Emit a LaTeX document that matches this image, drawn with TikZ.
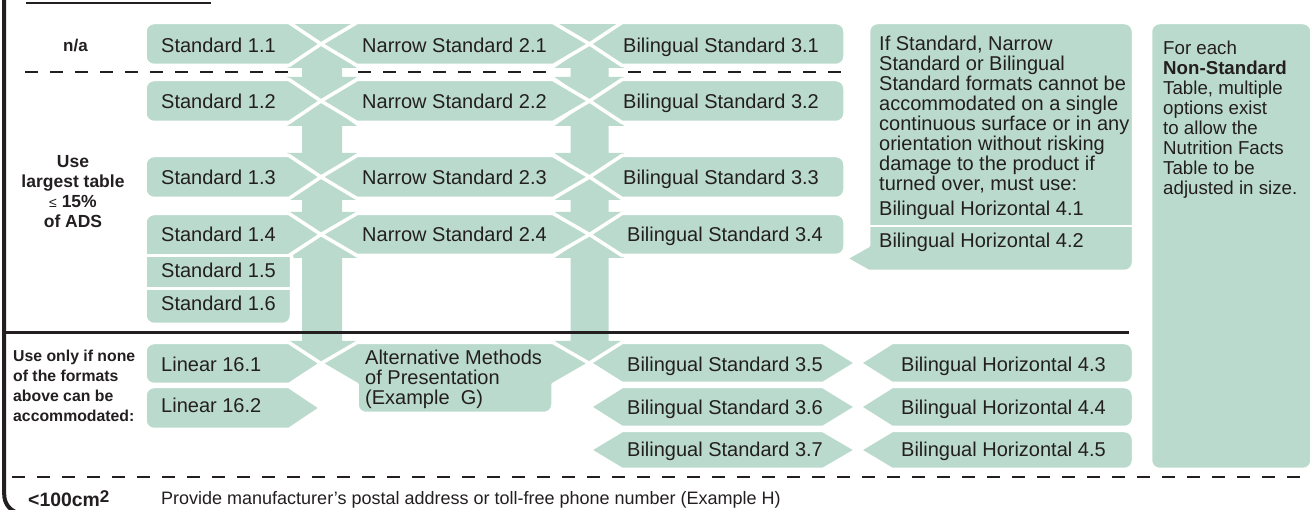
\documentclass[tikz,border=0pt]{standalone}
\usepackage{fontspec}
\setmainfont{Liberation Sans}

\definecolor{mint}{HTML}{BBDACE}
\definecolor{ink}{HTML}{231F20}

% box with rounded left end and a pointed right end
\newcommand\tipRight[5]{% left, corner, tip, top, bottom
  (#2,#4) -- (#3,{(#4+#5)/2}) -- (#2,#5) -- ({#1+9},#5)
  .. controls ({#1+4},#5) and (#1,{#5-4}) .. (#1,{#5-9}) -- (#1,{#4+9})
  .. controls (#1,{#4+4}) and ({#1+4},#4) .. ({#1+9},#4) -- cycle}
% box pointed at both ends
\newcommand\tipBoth[6]{% left tip, left corner, right corner, right tip, top, bottom
  (#1,{(#5+#6)/2}) -- (#2,#5) -- (#3,#5) -- (#4,{(#5+#6)/2}) -- (#3,#6) -- (#2,#6) -- cycle}
% box pointed at the left end, rounded at the right end
\newcommand\tipLeft[5]{% tip, corner, right, top, bottom
  (#1,{(#4+#5)/2}) -- (#2,#4) -- ({#3-9},#4)
  .. controls ({#3-4},#4) and (#3,{#4+4}) .. (#3,{#4+9}) -- (#3,{#5-9})
  .. controls (#3,{#5-4}) and ({#3-4},#5) .. ({#3-9},#5) -- (#2,#5) -- cycle}
% vertical double-headed block arrow
\newcommand\dblArrow[6]{% centre x, upper tip, upper base, lower base, lower tip, shaft half width
  (#1,#2) -- ({#1+35},#3) -- ({#1+#6},#3) -- ({#1+#6},#4) -- ({#1+35},#4) -- (#1,#5)
  -- ({#1-35},#4) -- ({#1-#6},#4) -- ({#1-#6},#3) -- ({#1-35},#3) -- cycle}

\tikzset{
  panel/.style={fill=mint, draw=white, line width=3.5pt, line join=round},
  shaft/.style={fill=mint},
  divider/.style={draw=white, line width=2.5pt},
  solidrule/.style={draw=ink, line width=3pt},
  dashrule/.style={draw=ink, line width=2.2pt, dash pattern=on 13pt off 12pt},
  txt/.style={inner sep=0pt, anchor=base west, text=ink, font=\fontsize{20}{20}\selectfont},
  blocktxt/.style={inner sep=0pt, anchor=north west, align=left, text=ink, font=\fontsize{20}{20}\selectfont},
  sidetxt/.style={inner sep=0pt, text=ink, font=\fontsize{17.5}{20}\selectfont\bfseries},
}

\begin{document}
\begin{tikzpicture}[x=1pt,y=-1pt]
\useasboundingbox (0,0) rectangle (1310,510);

% vertical links between the rows
\foreach \cx/\sw in {322/20, 589.5/19}{
  \path[shaft] ({\cx-35},24.25) -- ({\cx+35},24.25) -- (\cx,44) -- cycle;
  \path[shaft] \dblArrow{\cx}{44}{68}{77}{101}{\sw};
  \path[shaft] \dblArrow{\cx}{101}{126}{153}{177}{\sw};
  \path[shaft] \dblArrow{\cx}{177}{200}{212}{234.5}{\sw};
  \path[shaft] \dblArrow{\cx}{234.5}{258}{341}{363.5}{\sw};
}

% column 1
\path[panel] \tipRight{145}{289}{321}{22.5}{65.5};
\path[panel] \tipRight{145}{289}{321}{79.5}{122.5};
\path[panel] \tipRight{145}{289}{321}{155.5}{198.5};
\path[panel] (289,213.5) -- (321,234.5) -- (289,255.5) -- (291.5,255.5) -- (291.5,315.5)
  .. controls (291.5,320.5) and (287.5,324.5) .. (282.5,324.5) -- (154,324.5)
  .. controls (149,324.5) and (145,320.5) .. (145,315.5) -- (145,222.5)
  .. controls (145,217.5) and (149,213.5) .. (154,213.5) -- cycle;
\draw[divider] (145,255.3) -- (291.5,255.3);
\draw[divider] (145,288.7) -- (291.5,288.7);
\path[panel] \tipRight{145}{289}{321}{342.5}{384.5};
\path[panel] \tipRight{145}{289}{321}{386.5}{429.5};

% column 2
\path[panel] \tipBoth{321}{357}{553}{589.5}{22.5}{65.5};
\path[panel] \tipBoth{321}{357}{553}{589.5}{79.5}{122.5};
\path[panel] \tipBoth{321}{357}{553}{589.5}{155.5}{198.5};
\path[panel] \tipBoth{321}{357}{553}{589.5}{213.5}{255.5};
\path[panel] (321,363.5) -- (357,342.5) -- (553,342.5) -- (589.5,363.5) -- (553,384.5) -- (553,404.5)
  .. controls (553,409.5) and (549,413.5) .. (544,413.5) -- (366,413.5)
  .. controls (361,413.5) and (357,409.5) .. (357,404.5) -- (357,384.5) -- cycle;

% column 3
\path[panel] \tipLeft{589.5}{622}{845}{22.5}{65.5};
\path[panel] \tipLeft{589.5}{622}{845}{79.5}{122.5};
\path[panel] \tipLeft{589.5}{622}{845}{155.5}{198.5};
\path[panel] \tipLeft{589.5}{622}{845}{213.5}{255.5};
\path[panel] \tipBoth{589.5}{622}{823}{856.5}{342.5}{383.5};
\path[panel] \tipBoth{589.5}{622}{823}{856.5}{386.5}{427.5};
\path[panel] \tipBoth{589.5}{622}{823}{856.5}{430.5}{469.5};

% column 4
\path[panel] (877.5,22.5) -- (1124.5,22.5) .. controls (1129.5,22.5) and (1133.5,26.5) .. (1133.5,31.5)
  -- (1133.5,262.5) .. controls (1133.5,267.5) and (1129.5,271.5) .. (1124.5,271.5)
  -- (868.5,271.5) -- (845.5,258.5) -- (868.5,245.5) -- (868.5,31.5)
  .. controls (868.5,26.5) and (872.5,22.5) .. (877.5,22.5) -- cycle;
\draw[divider] (868.5,226) -- (1133.5,226);
\path[panel] \tipLeft{859.5}{892}{1133.5}{342.5}{383.5};
\path[panel] \tipLeft{859.5}{892}{1133.5}{386.5}{427.5};
\path[panel] \tipLeft{859.5}{892}{1133.5}{430.5}{469.5};

% column 5
\path[panel, rounded corners=9pt] (1150.5,22.5) rectangle (1312,469.5);

% frame and rules
\draw[ink, line width=2pt] (26,3.5) -- (211,3.5);
\draw[ink, line width=4pt] (4.2,-3) -- (4.2,494) .. controls (4.2,503) and (9,510) .. (18,513);
\draw[dashrule] (25,72) -- (288,72);
\draw[dashrule] (358,72) -- (548,72);
\draw[dashrule] (628,72) -- (841,72);
\draw[solidrule] (4,333) -- (1129,333);
\draw[dashrule] (12,477) -- (1312,477);

% row labels
\node[sidetxt, anchor=base, font=\fontsize{17}{20}\selectfont\bfseries] (na) at (75.5,52) {n/a};
\node[sidetxt, anchor=north, align=center] (largest) at (73,155.5)
  {Use\\largest table\\{\fontsize{14}{20}\mdseries ≤} 15\%\\of ADS};
\node[sidetxt, anchor=north west, align=left, font=\fontsize{15.8}{20}\selectfont\bfseries] (onlyif) at (13,349.6)
  {Use only if none\\of the formats\\above can be\\accommodated:};

% box texts
\node[txt] (s11) at (161,52.5) {Standard 1.1};
\node[txt] (s12) at (161,108.5) {Standard 1.2};
\node[txt] (s13) at (161,185) {Standard 1.3};
\node[txt] (s14) at (161,242) {Standard 1.4};
\node[txt] (s15) at (161,277.5) {Standard 1.5};
\node[txt] (s16) at (161,311) {Standard 1.6};
\node[txt] (l161) at (161,371.5) {Linear 16.1};
\node[txt] (l162) at (161,412.5) {Linear 16.2};

\node[txt] (n21) at (362,52.5) {Narrow Standard 2.1};
\node[txt] (n22) at (362,108.5) {Narrow Standard 2.2};
\node[txt] (n23) at (362,185) {Narrow Standard 2.3};
\node[txt] (n24) at (362,242) {Narrow Standard 2.4};
\node[blocktxt] (alt) at (365,349.5) {Alternative Methods\\of Presentation\\(Example\ \ G)};

\node[txt] (b31) at (623,52.5) {Bilingual Standard 3.1};
\node[txt] (b32) at (623,108.5) {Bilingual Standard 3.2};
\node[txt] (b33) at (623,185) {Bilingual Standard 3.3};
\node[txt] (b34) at (627,242) {Bilingual Standard 3.4};
\node[txt] (b35) at (627,372) {Bilingual Standard 3.5};
\node[txt] (b36) at (627,414.5) {Bilingual Standard 3.6};
\node[txt] (b37) at (627,456.5) {Bilingual Standard 3.7};

\node[blocktxt] (ifstd) at (879,35.5) {If Standard, Narrow\\Standard or Bilingual\\Standard formats cannot be\\accommodated on a single\\continuous surface or in any\\orientation without risking\\damage to the product if\\turned over, must use:};
\node[txt] (h41) at (879,216) {Bilingual Horizontal 4.1};
\node[txt] (h42) at (879,247.5) {Bilingual Horizontal 4.2};
\node[txt] (h43) at (901,372) {Bilingual Horizontal 4.3};
\node[txt] (h44) at (901,414.5) {Bilingual Horizontal 4.4};
\node[txt] (h45) at (901,456.5) {Bilingual Horizontal 4.5};

\node[blocktxt, font=\fontsize{18.7}{20}\selectfont] (nonstd) at (1163,40.6)
  {For each\\\textbf{Non-Standard}\\Table, multiple\\options exist\\to allow the\\Nutrition Facts\\Table to be\\adjusted in size.};

% footer
\node[txt, font=\fontsize{19.4}{20}\selectfont\bfseries] (small) at (28,507)
  {<100cm\raisebox{4pt}{\fontsize{17}{17}\selectfont 2}};
\node[txt, font=\fontsize{18}{20}\selectfont] (footer) at (161,504.5)
  {Provide manufacturer’s postal address or toll-free phone number (Example H)};
\end{tikzpicture}
\end{document}
